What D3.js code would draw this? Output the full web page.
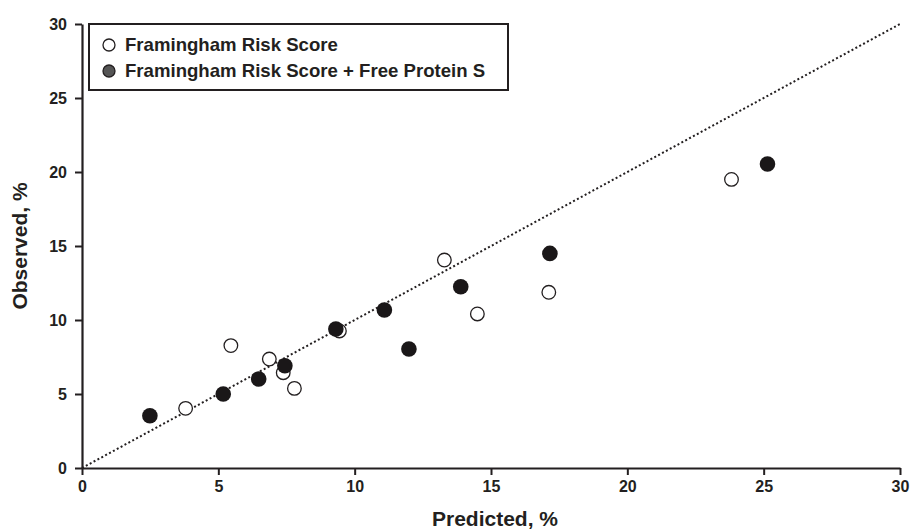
<!DOCTYPE html>
<html>
<head>
<meta charset="utf-8">
<script src="https://cdn.jsdelivr.net/npm/d3@7"></script>
<style>
  body { margin: 0; background: #fff; }
  text { font-family: "Liberation Sans", Arial, sans-serif; font-weight: bold; fill: #231f20; }
</style>
</head>
<body>
<div id="chart"></div>
<script>
// data (predicted vs observed, %)
const frsPredicted = [3.8, 5.46, 6.87, 7.38, 7.79, 9.44, 13.29, 14.5, 17.12, 23.82];
const frsObserved = [4.03, 8.27, 7.36, 6.44, 5.38, 9.26, 14.05, 10.41, 11.87, 19.5];
const fpsPredicted = [2.49, 5.18, 6.48, 7.44, 9.31, 11.09, 11.99, 13.89, 17.16, 25.14];
const fpsObserved = [3.53, 5.0, 6.01, 6.91, 9.39, 10.68, 8.04, 12.25, 14.5, 20.54];
const tickValues = [0, 5, 10, 15, 20, 25, 30];
const legendLabels = ['Framingham Risk Score', 'Framingham Risk Score + Free Protein S'];

const ink = '#231f20';
const margin = { top: 24, right: 13, bottom: 61, left: 82 };
const width = 913 - margin.left - margin.right;
const height = 529 - margin.top - margin.bottom;

const svg = d3.select('#chart')
  .append('svg')
  .attr('width', width + margin.left + margin.right)
  .attr('height', height + margin.top + margin.bottom)
  .append('g')
  .attr('transform', `translate(${margin.left}, ${margin.top})`);

const x = d3.scaleLinear().domain([0, 30]).range([0, width]);
const y = d3.scaleLinear().domain([0, 30]).range([height, 0]);

// axes
const xAxis = svg.append('g')
  .attr('transform', `translate(0, ${height})`)
  .call(d3.axisBottom(x).tickValues(tickValues).tickSize(7).tickSizeOuter(0).tickPadding(6));
const yAxis = svg.append('g')
  .call(d3.axisLeft(y).tickValues(tickValues).tickSize(7).tickSizeOuter(0).tickPadding(8));

[xAxis, yAxis].forEach(ax => {
  ax.select('.domain').attr('stroke', ink).attr('stroke-width', 2.2);
  ax.selectAll('.tick line').attr('stroke', ink).attr('stroke-width', 2);
  ax.selectAll('.tick text').style('font-size', '16px');
});

// identity line
svg.append('line')
  .attr('x1', x(0)).attr('y1', y(0))
  .attr('x2', x(30)).attr('y2', y(30))
  .attr('stroke', ink)
  .attr('stroke-width', 2)
  .attr('stroke-dasharray', '2,2.4');

// Framingham only: open circles
svg.selectAll('.frs')
  .data(frsPredicted.map((p, i) => [p, frsObserved[i]]))
  .enter()
  .append('circle')
  .attr('cx', d => x(d[0]))
  .attr('cy', d => y(d[1]))
  .attr('r', 6.8)
  .attr('fill', '#fff')
  .attr('stroke', ink)
  .attr('stroke-width', 1.3);

// Framingham + free protein S: filled circles
svg.selectAll('.fps')
  .data(fpsPredicted.map((p, i) => [p, fpsObserved[i]]))
  .enter()
  .append('circle')
  .attr('cx', d => x(d[0]))
  .attr('cy', d => y(d[1]))
  .attr('r', 7.8)
  .attr('fill', '#1a1718');

// legend
const legend = svg.append('g').attr('transform', 'translate(7, 0)');
legend.append('rect')
  .attr('x', 0).attr('y', 0)
  .attr('width', 419).attr('height', 66)
  .attr('fill', '#fff')
  .attr('stroke', ink)
  .attr('stroke-width', 2);
legendLabels.forEach((label, i) => {
  const cy = 21 + i * 26;
  legend.append('circle')
    .attr('cx', 20).attr('cy', cy)
    .attr('r', 6)
    .attr('fill', i === 0 ? '#fff' : '#555')
    .attr('stroke', ink)
    .attr('stroke-width', 1.3);
  legend.append('text')
    .attr('x', 36).attr('y', cy + 6)
    .style('font-size', '18.6px')
    .text(label);
});

// axis titles
svg.append('text')
  .attr('x', 413)
  .attr('y', height + 58)
  .attr('text-anchor', 'middle')
  .style('font-size', '21px')
  .text('Predicted, %');

svg.append('text')
  .attr('transform', `translate(-55, ${height / 2}) rotate(-90)`)
  .attr('text-anchor', 'middle')
  .style('font-size', '21px')
  .text('Observed, %');
</script>
</body>
</html>
